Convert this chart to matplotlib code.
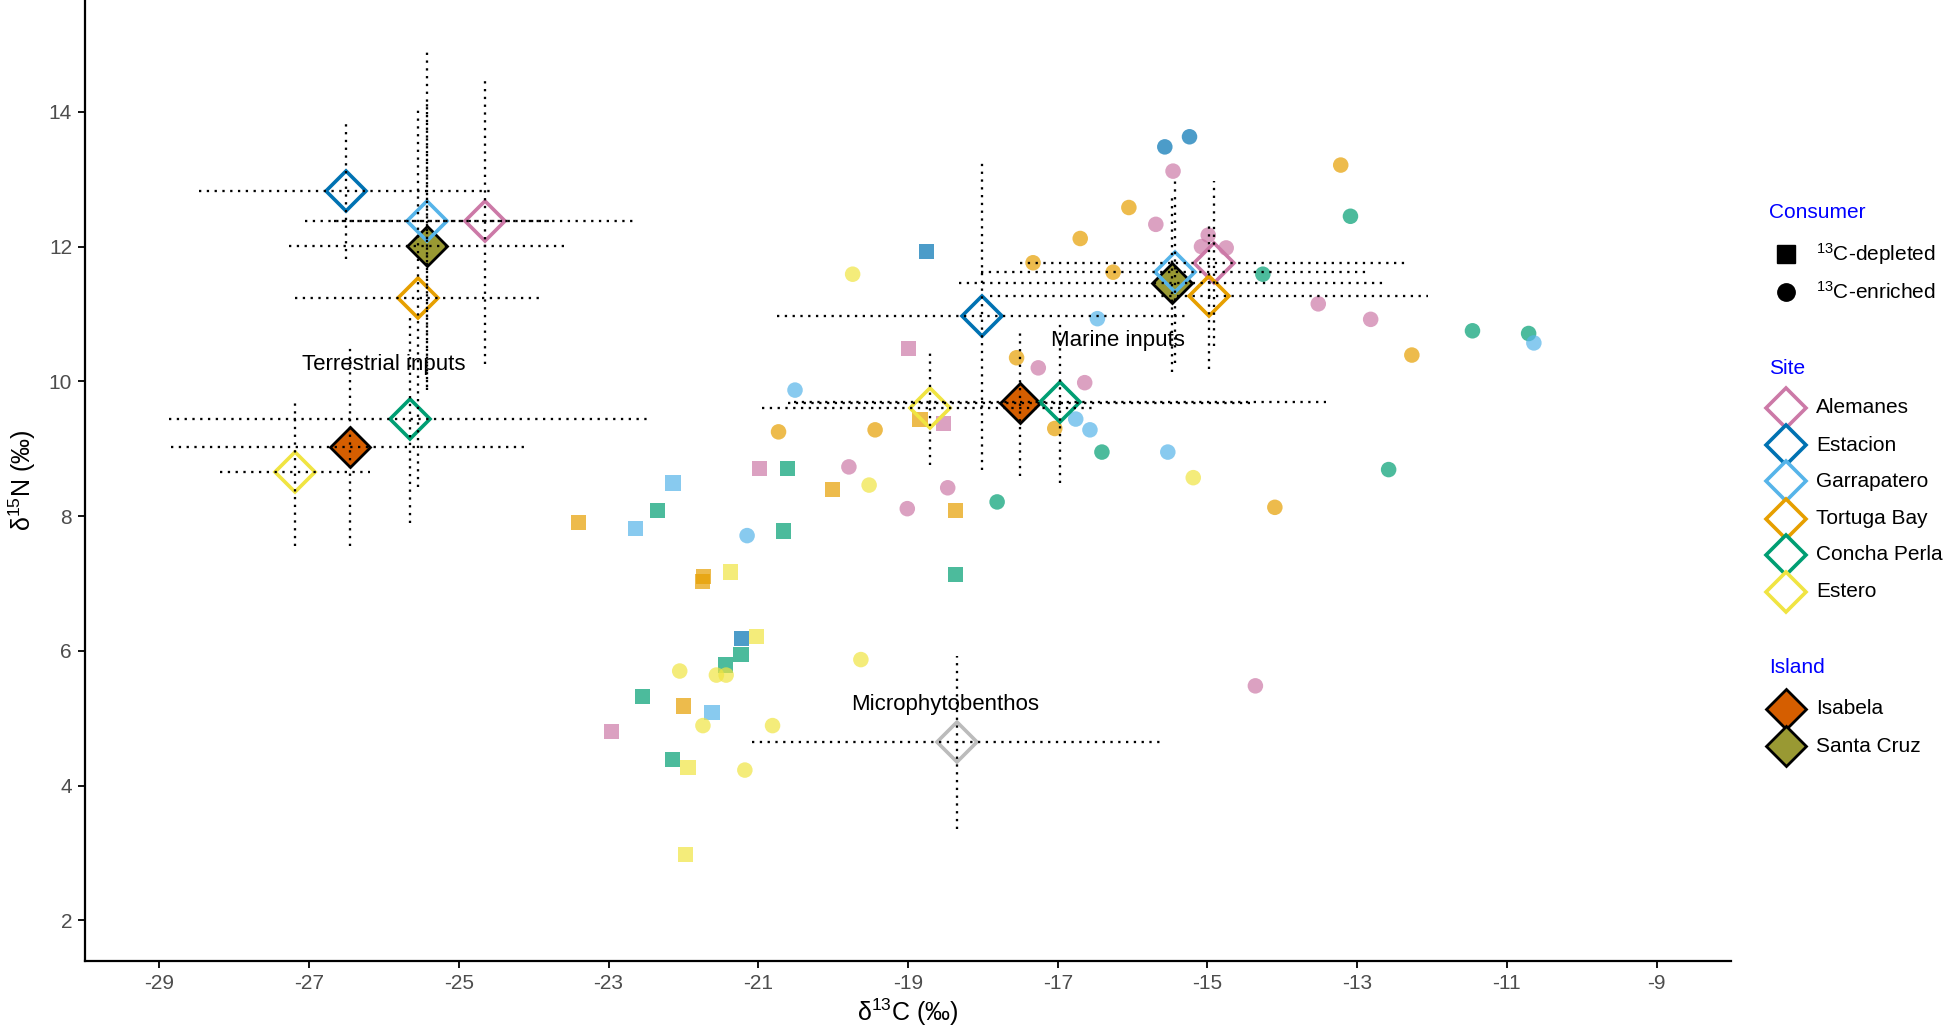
import matplotlib
matplotlib.use('Agg')
import matplotlib.pyplot as plt
from matplotlib.lines import Line2D

plt.rcParams['font.family'] = ['Liberation Sans', 'DejaVu Sans']
plt.rcParams['mathtext.default'] = 'regular'

# ---------------- data ----------------
sites = ['Alemanes', 'Estacion', 'Garrapatero', 'Tortuga Bay', 'Concha Perla', 'Estero']
site_colors = ['#CC79A7', '#0072B2', '#56B4E9', '#E69F00', '#009E73', '#F0E442']
islands = ['Isabela', 'Santa Cruz']
island_colors = ['#D55E00', '#999933']
mpb_color = '#BBBBBB'

# consumers, 13C-enriched (circles)
enr_site = (['Estacion'] * 2
            + ['Alemanes'] * 13
            + ['Tortuga Bay'] * 11
            + ['Concha Perla'] * 7
            + ['Garrapatero'] * 7
            + ['Estero'] * 10)
enr_x = [-15.57, -15.24,
         -15.46, -15.69, -14.99, -15.08, -14.75, -13.52, -12.82, -16.64, -17.26, -19.79, -18.47, -19.01, -14.36,
         -13.22, -16.05, -16.70, -16.26, -17.33, -12.27, -17.55, -17.04, -20.73, -19.44, -14.10,
         -13.09, -14.26, -11.46, -10.71, -16.41, -17.81, -12.58,
         -10.64, -16.47, -20.51, -16.76, -16.57, -15.53, -21.15,
         -19.74, -15.19, -19.52, -19.63, -22.05, -21.56, -21.43, -21.74, -20.81, -21.18]
enr_y = [13.48, 13.63,
         13.12, 12.33, 12.17, 12.00, 11.98, 11.15, 10.92, 9.98, 10.20, 8.73, 8.42, 8.11, 5.48,
         13.21, 12.58, 12.12, 11.62, 11.76, 10.39, 10.35, 9.30, 9.25, 9.28, 8.13,
         12.45, 11.59, 10.75, 10.71, 8.95, 8.21, 8.69,
         10.57, 10.93, 9.87, 9.44, 9.28, 8.95, 7.71,
         11.59, 8.57, 8.46, 5.87, 5.70, 5.64, 5.64, 4.89, 4.89, 4.23]

# consumers, 13C-depleted (squares)
dep_site = (['Estacion'] * 2
            + ['Alemanes'] * 4
            + ['Tortuga Bay'] * 7
            + ['Concha Perla'] * 8
            + ['Garrapatero'] * 3
            + ['Estero'] * 4)
dep_x = [-18.75, -21.22,
         -18.99, -18.53, -20.98, -22.96,
         -23.40, -20.01, -18.37, -18.84, -21.73, -21.75, -22.00,
         -22.35, -20.61, -20.66, -18.37, -21.23, -21.44, -22.55, -22.15,
         -22.14, -22.64, -21.62,
         -21.37, -21.02, -21.94, -21.97]
dep_y = [11.93, 6.18,
         10.49, 9.37, 8.71, 4.80,
         7.91, 8.40, 8.08, 9.43, 7.10, 7.03, 5.18,
         8.08, 8.71, 7.78, 7.13, 5.95, 5.79, 5.32, 4.39,
         8.49, 7.82, 5.08,
         7.17, 6.21, 4.27, 2.98]

# source means +/- sd
src_name = ['Estacion', 'Garrapatero', 'Alemanes', 'Santa Cruz', 'Tortuga Bay', 'Concha Perla', 'Isabela', 'Estero',
            'Estacion', 'Isabela', 'Concha Perla', 'Estero', 'Garrapatero', 'Santa Cruz', 'Alemanes', 'Tortuga Bay',
            'Microphytobenthos']
src_x = [-26.51, -25.43, -24.65, -25.43, -25.55, -25.65, -26.46, -27.19,
         -18.01, -17.50, -16.97, -18.71, -15.44, -15.47, -14.91, -14.98,
         -18.34]
src_y = [12.82, 12.38, 12.38, 12.01, 11.23, 9.44, 9.03, 8.65,
         10.97, 9.68, 9.70, 9.61, 11.63, 11.46, 11.75, 11.27,
         4.64]
src_xsd = [1.96, 1.63, 2.02, 1.84, 1.64, 3.22, 2.38, 1.00,
           2.74, 3.10, 3.55, 2.24, 2.59, 2.85, 2.60, 2.92,
           2.74]
src_ysd = [1.00, 2.51, 2.12, 2.10, 2.80, 1.55, 1.48, 1.10,
           2.29, 1.08, 1.21, 0.85, 1.36, 1.32, 1.22, 1.08,
           1.29]

group_labels = ['Terrestrial inputs', 'Marine inputs', 'Microphytobenthos']
group_label_x = [-26.0, -16.2, -18.5]
group_label_y = [10.25, 10.6, 5.21]

x_ticks = [-29, -27, -25, -23, -21, -19, -17, -15, -13, -11, -9]
y_ticks = [2, 4, 6, 8, 10, 12, 14]

# ---------------- plot ----------------
fig = plt.figure(figsize=(19.49, 10.36), dpi=100)
ax = fig.add_axes([0.0434, 0.072, 0.845, 0.928])

col_of = dict(zip(sites, site_colors))
col_of.update(dict(zip(islands, island_colors)))

ax.scatter(dep_x, dep_y, marker='s', s=120, c=[col_of[s] for s in dep_site],
           alpha=0.7, linewidths=0, zorder=2)
ax.scatter(enr_x, enr_y, marker='o', s=125, c=[col_of[s] for s in enr_site],
           alpha=0.7, linewidths=0, zorder=2)

DMS = 20
for name, x, y in zip(src_name, src_x, src_y):
    if name in islands:
        ax.plot([x], [y], marker='D', ms=DMS, mfc=col_of[name], mec='black', mew=2.0,
                ls='none', zorder=3)
for name, x, y in zip(src_name, src_x, src_y):
    if name in sites:
        ax.plot([x], [y], marker='D', ms=DMS, mfc='none', mec=col_of[name], mew=2.6,
                ls='none', zorder=4)
    elif name == 'Microphytobenthos':
        ax.plot([x], [y], marker='D', ms=DMS, mfc='none', mec=mpb_color, mew=2.6,
                ls='none', zorder=4)

dots = (0, (1, 2.4))
xlo = [x - s for x, s in zip(src_x, src_xsd)]
xhi = [x + s for x, s in zip(src_x, src_xsd)]
ylo = [y - s for y, s in zip(src_y, src_ysd)]
yhi = [y + s for y, s in zip(src_y, src_ysd)]
ax.hlines(src_y, xlo, xhi, colors='black', linestyles=dots, linewidth=1.65, zorder=5)
ax.vlines(src_x, ylo, yhi, colors='black', linestyles=dots, linewidth=1.65, zorder=5)

for t, x, y in zip(group_labels, group_label_x, group_label_y):
    ax.text(x, y, t, fontsize=16, ha='center', va='center', color='black', zorder=6)

ax.set_xlim(-30.0, -8.0)
ax.set_ylim(1.39, 15.66)
ax.set_xticks(x_ticks)
ax.set_xticklabels([str(v) for v in x_ticks])
ax.set_yticks(y_ticks)
ax.set_yticklabels([str(v) for v in y_ticks])
for sp in ['top', 'right']:
    ax.spines[sp].set_visible(False)
for sp in ['left', 'bottom']:
    ax.spines[sp].set_linewidth(1.6)
ax.tick_params(axis='both', direction='out', length=5, width=1.3, color='black',
               labelsize=15, labelcolor='#4D4D4D', pad=4)
ax.set_xlabel('δ$^{13}$C (‰)', fontsize=18, labelpad=3)
ax.set_ylabel('δ$^{15}$N (‰)', fontsize=18, labelpad=8)

# ---------------- legends ----------------
tx, mx, lx = 0.9075, 0.9165, 0.9318
title_kw = dict(fontsize=15, color='#0000FF', ha='left', va='center')
lab_kw = dict(fontsize=15, color='black', ha='left', va='center')

fig.text(tx, 0.7947, 'Consumer', **title_kw)
cons_labels = ['$^{13}$C-depleted', '$^{13}$C-enriched']
cons_markers = ['s', 'o']
for lab, mk, y in zip(cons_labels, cons_markers, [0.7551, 0.7179]):
    fig.add_artist(Line2D([mx], [y], transform=fig.transFigure, marker=mk, ms=12.5,
                          mfc='black', mec='black', ls='none'))
    fig.text(lx, y, lab, **lab_kw)

fig.text(tx, 0.6447, 'Site', **title_kw)
site_ys = [0.6062, 0.5702, 0.5354, 0.4994, 0.4646, 0.4286]
for lab, c, y in zip(sites, site_colors, site_ys):
    fig.add_artist(Line2D([mx], [y], transform=fig.transFigure, marker='D', ms=DMS,
                          mfc='white', mec=c, mew=2.6, ls='none'))
    fig.text(lx, y, lab, **lab_kw)

fig.text(tx, 0.3553, 'Island', **title_kw)
for lab, c, y in zip(islands, island_colors, [0.3157, 0.2797]):
    fig.add_artist(Line2D([mx], [y], transform=fig.transFigure, marker='D', ms=DMS,
                          mfc=c, mec='black', mew=2.0, ls='none'))
    fig.text(lx, y, lab, **lab_kw)

fig.savefig('out.png', dpi=100)
